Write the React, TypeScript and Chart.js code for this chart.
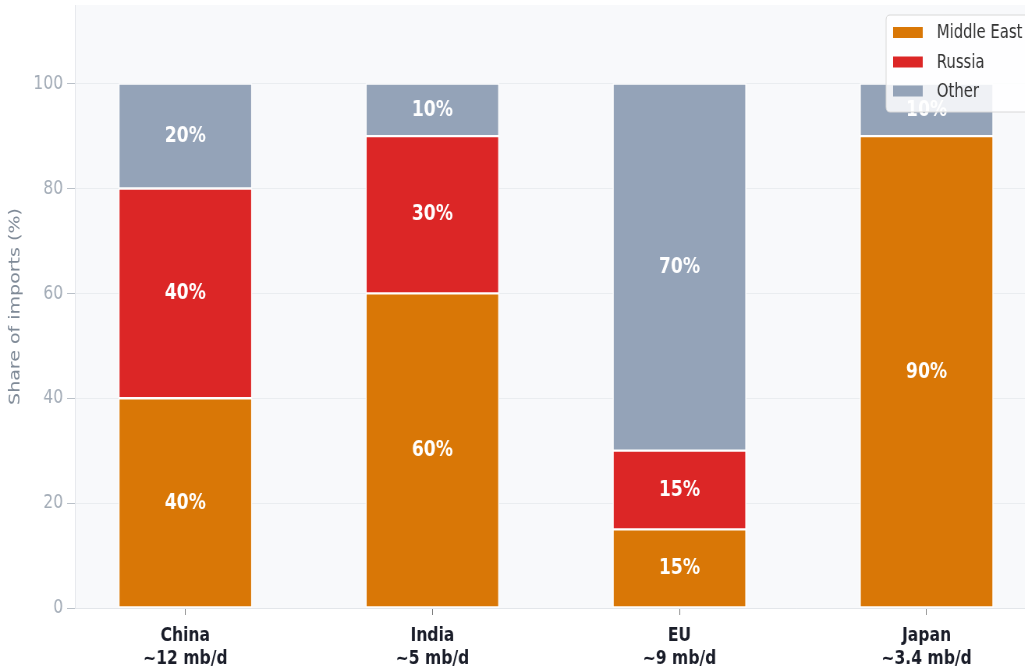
import React, { useEffect, useRef } from "react";
import { Chart, registerables } from "chart.js";

Chart.register(...registerables);

const CATEGORIES = ["China", "India", "EU", "Japan"];
const VOLUMES = ["~12 mb/d", "~5 mb/d", "~9 mb/d", "~3.4 mb/d"];
const MIDDLE_EAST = [40, 60, 15, 90];
const RUSSIA = [40, 30, 15, 0];
const OTHER = [20, 10, 70, 10];
const Y_TICKS = [0, 20, 40, 60, 80, 100];
const SERIES_NAMES = ["Middle East", "Russia", "Other"];
const SERIES_COLORS = ["#d97706", "#dc2626", "#94a3b8"];

const SX = 0.78; // horizontal compression of the reference
const VW = 1340;
const VH = 670;
const FONT = "'DejaVu Sans', 'Noto Sans', sans-serif";

const bgPlugin = {
  id: "plotBg",
  beforeDraw(chart: any) {
    const { ctx, chartArea: a } = chart;
    ctx.save();
    ctx.fillStyle = "#f8f9fb";
    ctx.fillRect(a.left, a.top, a.right - a.left, a.bottom - a.top);
    ctx.restore();
  },
};

const labelPlugin = {
  id: "segLabels",
  afterDatasetsDraw(chart: any) {
    const { ctx } = chart;
    ctx.save();
    ctx.font = `bold 22px ${FONT}`;
    ctx.fillStyle = "#ffffff";
    ctx.textAlign = "center";
    ctx.textBaseline = "middle";
    chart.data.datasets.forEach((ds: any, di: number) => {
      const meta = chart.getDatasetMeta(di);
      meta.data.forEach((el: any, i: number) => {
        const v = ds.data[i].y;
        if (!v) return;
        ctx.fillText(`${v}%`, el.x, (el.y + el.base) / 2);
      });
    });
    ctx.restore();
  },
};

const legendPlugin = {
  id: "boxLegend",
  afterDraw(chart: any) {
    const { ctx } = chart;
    const left = 1136;
    const right = 1322;
    const top = 15;
    const bottom = 112;
    ctx.save();
    ctx.beginPath();
    const r = 5;
    ctx.moveTo(left + r, top);
    ctx.lineTo(right - r, top);
    ctx.quadraticCurveTo(right, top, right, top + r);
    ctx.lineTo(right, bottom - r);
    ctx.quadraticCurveTo(right, bottom, right - r, bottom);
    ctx.lineTo(left + r, bottom);
    ctx.quadraticCurveTo(left, bottom, left, bottom - r);
    ctx.lineTo(left, top + r);
    ctx.quadraticCurveTo(left, top, left + r, top);
    ctx.closePath();
    ctx.fillStyle = "rgba(255,255,255,0.85)";
    ctx.fill();
    ctx.strokeStyle = "#d8d8d8";
    ctx.lineWidth = 1;
    ctx.stroke();
    const rows = [32.5, 62, 91];
    ctx.font = `19px ${FONT}`;
    ctx.textBaseline = "middle";
    ctx.textAlign = "left";
    chart.data.datasets.forEach((ds: any, i: number) => {
      const y = rows[i];
      ctx.fillStyle = ds.backgroundColor;
      ctx.fillRect(1145, y - 5.5, 38, 11);
      ctx.fillStyle = "#333333";
      ctx.fillText(ds.label, 1201, y + 1);
    });
    ctx.restore();
  },
};

export default function App() {
  const ref = useRef<HTMLCanvasElement | null>(null);

  useEffect(() => {
    if (!ref.current) return;
    const seriesValues = [MIDDLE_EAST, RUSSIA, OTHER];
    const chart = new Chart(ref.current, {
      type: "bar",
      data: {
        datasets: SERIES_NAMES.map((name, si) => ({
          label: name,
          data: CATEGORIES.map((_, i) => ({ x: i, y: seriesValues[si][i] })),
          backgroundColor: SERIES_COLORS[si],
          borderColor: "#ffffff",
          borderWidth: 1.5,
          borderSkipped: false,
          barThickness: 171,
          stack: "s",
        })),
      },
      options: {
        responsive: false,
        animation: false,
        devicePixelRatio: 1,
        layout: { padding: { top: 5, right: 10.5, bottom: 0, left: 0 } },
        plugins: {
          legend: { display: false },
          tooltip: { enabled: false },
        },
        scales: {
          x: {
            type: "linear",
            offset: false,
            min: -0.447,
            max: 3.447,
            afterBuildTicks: (scale: any) => {
              scale.ticks = CATEGORIES.map((_, i) => ({ value: i }));
            },
            afterFit: (scale: any) => {
              scale.height = 62;
              scale.paddingLeft = 0;
              scale.paddingRight = 0;
            },
            ticks: {
              autoSkip: false,
              maxRotation: 0,
              padding: 9,
              color: "#1a1d29",
              font: { family: FONT, size: 20, weight: "bold", lineHeight: 1.15 },
              callback: (v: any) => {
                const i = Math.round(Number(v));
                return [CATEGORIES[i], VOLUMES[i]];
              },
            },
            grid: {
              display: true,
              offset: false,
              drawOnChartArea: false,
              drawTicks: true,
              tickLength: 7,
              tickColor: "#777777",
            },
            border: { display: true, color: "#e3e6ea" },
          },
          y: {
            stacked: true,
            min: 0,
            max: 115,
            afterBuildTicks: (scale: any) => {
              scale.ticks = Y_TICKS.map((v) => ({ value: v }));
            },
            afterFit: (scale: any) => {
              scale.width = 96;
              scale.paddingTop = 0;
              scale.paddingBottom = 0;
            },
            ticks: {
              padding: 5,
              color: "#a3acb7",
              font: { family: FONT, size: 20 },
            },
            grid: {
              color: "#eaedf0",
              lineWidth: 1,
              drawTicks: true,
              tickLength: 10,
              tickColor: "#b9c0c8",
            },
            border: { display: true, color: "#e3e6ea" },
            title: {
              display: true,
              text: "Share of imports (%)",
              color: "#7f8a97",
              font: { family: FONT, size: 19 },
              padding: { top: 9, bottom: 0 },
            },
          },
        },
      },
      plugins: [bgPlugin, labelPlugin, legendPlugin],
    } as any);
    return () => chart.destroy();
  }, []);

  return (
    <div
      style={{
        position: "fixed",
        left: 0,
        top: 0,
        width: 1025,
        height: 670,
        overflow: "hidden",
        background: "#ffffff",
      }}
    >
      <canvas
        ref={ref}
        width={VW}
        height={VH}
        style={{
          display: "block",
          width: VW,
          height: VH,
          transform: `scaleX(${SX})`,
          transformOrigin: "0 0",
        }}
      />
    </div>
  );
}
